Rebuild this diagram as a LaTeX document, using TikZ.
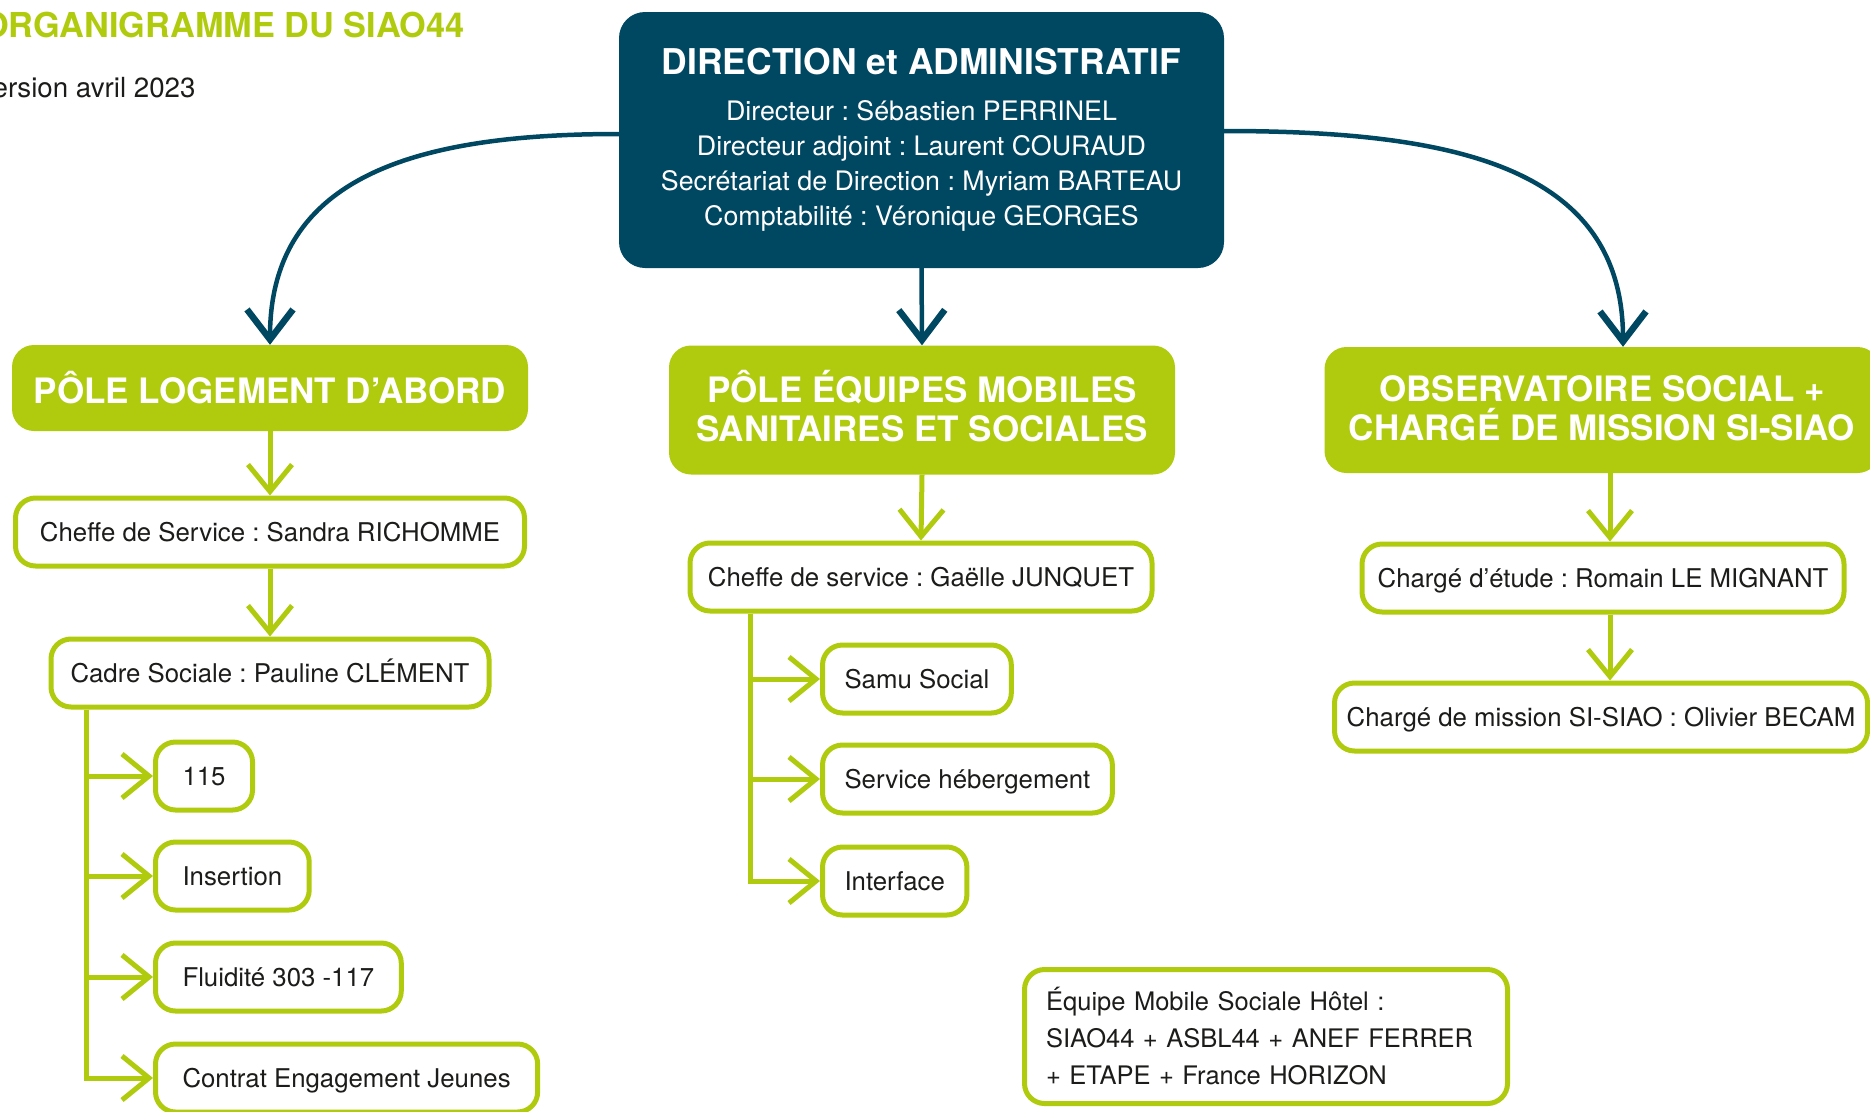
\documentclass[tikz,border=0pt]{standalone}
\usepackage{fontspec}
\setmainfont{TeX Gyre Heros}
\usetikzlibrary{arrows.meta,calc}

\definecolor{siaogreen}{RGB}{176,203,14}
\definecolor{dirblue}{RGB}{0,71,98}
\definecolor{inkblack}{RGB}{28,28,26}

\newcommand{\textefont}{\fontsize{25.8}{35}\selectfont}
\newcommand{\titrefont}{\fontsize{35}{39}\selectfont\bfseries}

\tikzset{
  pole/.style={fill=siaogreen, text=white, font=\titrefont, align=center,
    rounded corners=22pt, inner sep=0pt},
  cadrebase/.style={draw=siaogreen, line width=5pt, fill=white, text=inkblack,
    font=\textefont, rounded corners=20pt},
  poste/.style={cadrebase, minimum height=68pt, text height=23pt, text depth=4.5pt,
    inner xsep=26pt},
  lien/.style={siaogreen, line width=5pt,
    -{Straight Barb[length=27pt,width=44pt,line width=5pt]}},
  fleche/.style={dirblue, line width=4.5pt,
    -{Straight Barb[length=30pt,width=46pt,line width=6.5pt]}}
}

\begin{document}
\frenchspacing
\begin{tikzpicture}[x=1pt,y=-1pt]
\useasboundingbox (0,0) rectangle (1870,1111);
\clip (0,0) rectangle (1870,1111);

\node[anchor=base east, text=siaogreen, font=\fontsize{34.3}{39}\selectfont\bfseries] (titre) at (468,37) {ORGANIGRAMME DU SIAO44};
\node[anchor=base east, text=inkblack, font=\fontsize{27.7}{30}\selectfont] (version) at (199,97) {Version avril 2023};

% direction
\node[fill=dirblue, text=white, rounded corners=26pt, minimum width=605pt, minimum height=256pt,
  align=center, font=\fontsize{26.8}{35}\selectfont, inner sep=0pt] (dir) at (921.5,140)
  {{\fontsize{35.5}{39}\selectfont\bfseries DIRECTION et ADMINISTRATIF}\\[11pt]
   Directeur : Sébastien PERRINEL\\
   Directeur adjoint : Laurent COURAUD\\
   Secrétariat de Direction : Myriam BARTEAU\\
   Comptabilité : Véronique GEORGES};

% poles
\node[pole, minimum width=516pt, minimum height=86pt] (pole1) at (270,388) {PÔLE LOGEMENT D’ABORD};
\node[pole, minimum width=506pt, minimum height=129pt, text depth=9pt] (pole2) at (922,410) {PÔLE ÉQUIPES MOBILES\\SANITAIRES ET SOCIALES};
\node[pole, minimum width=555pt, minimum height=126pt, text depth=3pt] (pole3) at (1602,410) {OBSERVATOIRE SOCIAL +\\CHARGÉ DE MISSION SI-SIAO};

% postes
\node[poste, inner xsep=8pt, minimum width=509pt] (chef1) at (270,532) {Cheffe de Service : Sandra RICHOMME};
\node[poste, inner xsep=8pt, minimum width=438pt] (cadre) at (270,673) {Cadre Sociale : Pauline CLÉMENT};
\node[poste, inner xsep=8pt, minimum width=462pt] (chef2) at (921,577) {Cheffe de service : Gaëlle JUNQUET};
\node[poste, inner xsep=8pt, minimum width=482pt] (etude) at (1603,578) {Chargé d’étude : Romain LE MIGNANT};
\node[poste, inner xsep=8pt, minimum width=533pt] (becam) at (1601,717) {Chargé de mission SI-SIAO : Olivier BECAM};

\foreach \nom/\y/\texte in {l115/776/115, linsertion/876/Insertion, lfluidite/977/Fluidité 303 -117, lcontrat/1078/Contrat Engagement Jeunes}
  \node[poste, anchor=west, inner xsep=27pt] (\nom) at (153,\y) {\texte};
\foreach \nom/\y/\texte in {samu/679/Samu Social, heberg/779/Service hébergement, interface/881/Interface}
  \node[poste, anchor=west, inner xsep=22pt] (\nom) at (820,\y) {\texte};

\node[cadrebase, minimum width=483pt, minimum height=134pt, text width=440pt, align=left,
  font=\fontsize{25.5}{37}\selectfont] (emsh) at (1266,1036.5)
  {Équipe Mobile Sociale Hôtel :\\SIAO44 + ASBL44 + ANEF FERRER\\+ ETAPE + France HORIZON};

% fleches direction
\draw[fleche] ([yshift=6pt]dir.west) .. controls +(-200,0) and +(0,-170) .. (pole1.north);
\draw[fleche] (dir.south) -- (pole2.north);
\draw[fleche] ([yshift=9pt]dir.east) .. controls +(230,0) and +(0,-180) .. ([xshift=21pt]pole3.north);

% liens
\draw[lien] (pole1.south) -- (chef1.north);
\draw[lien] (chef1.south) -- (cadre.north);
\draw[lien] (pole2.south) -- (chef2.north);
\draw[lien] ([xshift=8pt]pole3.south) -- ([xshift=7pt]etude.north);
\draw[lien] ([xshift=7pt]etude.south) -- ([xshift=9pt]becam.north);

\coordinate (tronc1) at ($(cadre.south west)+(38,0)$);
\draw[lien] (tronc1) |- (lcontrat.west);
\foreach \f in {l115,linsertion,lfluidite}
  \draw[lien] (tronc1 |- \f.west) -- (\f.west);

\coordinate (tronc2) at ($(chef2.south west)+(62.5,0)$);
\draw[lien] (tronc2) |- (interface.west);
\foreach \f in {samu,heberg}
  \draw[lien] (tronc2 |- \f.west) -- (\f.west);
\end{tikzpicture}
\end{document}
